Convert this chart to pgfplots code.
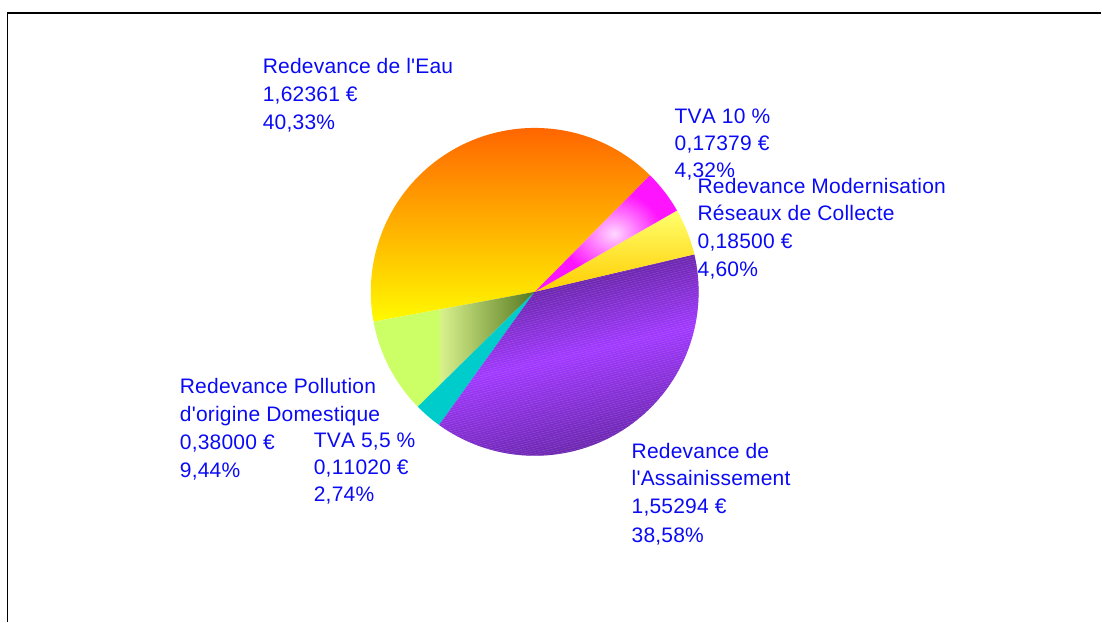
\documentclass[border=0pt]{standalone}
\usepackage{pgfplots}
\pgfplotsset{compat=1.18}
\usepackage{pgfplotstable}
\usetikzlibrary{patterns.meta}
\usepackage{fontspec}
\setmainfont{Liberation Sans}[Ligatures=TeXOff, Kerning=Off, LetterSpace=1.0]
\definecolor{txtblue}{RGB}{10,10,245}
\definecolor{eauTop}{RGB}{255,102,0}
\definecolor{eauBot}{RGB}{255,250,0}
\definecolor{pollLight}{RGB}{204,255,102}
\definecolor{pollPale}{RGB}{215,240,140}
\definecolor{pollDark}{RGB}{85,120,30}
\definecolor{teal5}{RGB}{0,204,204}
\definecolor{purDark}{RGB}{100,35,165}
\definecolor{purBright}{RGB}{160,55,255}
\definecolor{modTop}{RGB}{255,255,110}
\definecolor{modBot}{RGB}{255,205,0}
\definecolor{mag}{RGB}{255,20,255}
\definecolor{magLight}{RGB}{255,215,255}
\pgfdeclarehorizontalshading{pollshade}{100bp}{color(0bp)=(pollLight); color(45bp)=(pollLight); color(46bp)=(pollPale); color(75bp)=(pollDark); color(100bp)=(pollDark)}
\pgfdeclareradialshading{magshade}{\pgfpoint{3bp}{0bp}}{color(0bp)=(magLight); color(8bp)=(mag!55!white); color(18bp)=(mag); color(50bp)=(mag)}
\pgfdeclareverticalshading{purshade}{100bp}{color(0bp)=(purDark); color(25bp)=(purDark); color(50bp)=(purBright); color(75bp)=(purDark!80!black); color(100bp)=(purDark!80!black)}
\tikzset{lbl/.style={anchor=base west, inner sep=0pt, outer sep=0pt, text=txtblue,
    font=\fontsize{21bp}{24bp}\selectfont}}

\pgfplotstableread{
key value
Eau 1.62361
Pollution 0.38000
TVA55 0.11020
Assain 1.55294
Modern 0.18500
TVA10 0.17379
}\piedata

\begin{document}
\begin{tikzpicture}
\pgfplotstablegetelem{0}{value}\of\piedata \pgfmathsetmacro\vA{\pgfplotsretval}
\pgfplotstablegetelem{1}{value}\of\piedata \pgfmathsetmacro\vB{\pgfplotsretval}
\pgfplotstablegetelem{2}{value}\of\piedata \pgfmathsetmacro\vC{\pgfplotsretval}
\pgfplotstablegetelem{3}{value}\of\piedata \pgfmathsetmacro\vD{\pgfplotsretval}
\pgfplotstablegetelem{4}{value}\of\piedata \pgfmathsetmacro\vE{\pgfplotsretval}
\pgfplotstablegetelem{5}{value}\of\piedata \pgfmathsetmacro\vF{\pgfplotsretval}
\pgfmathsetmacro\total{\vA+\vB+\vC+\vD+\vE+\vF}
\pgfmathsetmacro\aA{45.3}
\pgfmathsetmacro\aB{\aA+360*\vA/\total}
\pgfmathsetmacro\aC{\aB+360*\vB/\total}
\pgfmathsetmacro\aD{\aC+360*\vC/\total}
\pgfmathsetmacro\aE{\aD+360*\vD/\total}
\pgfmathsetmacro\aF{\aE+360*\vE/\total}
\pgfmathsetmacro\aG{\aF+360*\vF/\total}
\begin{axis}[
  x=1bp, y=1bp,
  xmin=0, xmax=1102, ymin=0, ymax=622,
  y dir=reverse,
  hide axis, clip=false,
]
\path (axis cs:0,0) rectangle (axis cs:1102,622);
% slices
\addplot[draw=none, top color=eauTop, bottom color=eauBot, domain=\aA:\aB, samples=80, variable=\t]
  ({535+164*cos(\t)},{292-164*sin(\t)}) -- (axis cs:535,292) -- cycle;
\addplot[draw=none, shading=pollshade, domain=\aB:\aC, samples=30, variable=\t]
  ({535+164*cos(\t)},{292-164*sin(\t)}) -- (axis cs:535,292) -- cycle;
\addplot[draw=none, fill=teal5, domain=\aC:\aD, samples=10, variable=\t]
  ({535+164*cos(\t)},{292-164*sin(\t)}) -- (axis cs:535,292) -- cycle;
\addplot[draw=none, shading=purshade, shading angle=13,
  postaction={pattern={Lines[angle=14, distance=2.2bp, line width=0.5bp]}, pattern color=white!70!purBright, opacity=0.35},
  domain=\aD:\aE, samples=80, variable=\t]
  ({535+164*cos(\t)},{292-164*sin(\t)}) -- (axis cs:535,292) -- cycle;
\addplot[draw=none, top color=modTop, bottom color=modBot, domain=\aE:\aF, samples=20, variable=\t]
  ({535+164*cos(\t)},{292-164*sin(\t)}) -- (axis cs:535,292) -- cycle;
\addplot[draw=none, shading=magshade, domain=\aF:\aG, samples=20, variable=\t]
  ({535+164*cos(\t)},{292-164*sin(\t)}) -- (axis cs:535,292) -- cycle;
% frame
\draw[line width=1.2bp] (axis cs:7.5,622) -- (axis cs:7.5,13) -- (axis cs:1102,13);
% labels
\node[lbl] at (axis cs:263,74) {Redevance de l'Eau};
\node[lbl] at (axis cs:263,102) {1,62361 €};
\node[lbl] at (axis cs:263,130) {40,33\%};
\node[lbl] at (axis cs:675,124) {TVA 10 \%};
\node[lbl] at (axis cs:675,151) {0,17379 €};
\node[lbl] at (axis cs:675,177.5) {4,32\%};
\node[lbl] at (axis cs:698,193.3) {Redevance Modernisation};
\node[lbl] at (axis cs:698,221) {Réseaux de Collecte};
\node[lbl] at (axis cs:698,249) {0,18500 €};
\node[lbl] at (axis cs:698,276.7) {4,60\%};
\node[lbl] at (axis cs:180,394) {Redevance Pollution};
\node[lbl] at (axis cs:180,421.7) {d'origine Domestique};
\node[lbl] at (axis cs:180,450) {0,38000 €};
\node[lbl] at (axis cs:180,477.3) {9,44\%};
\node[lbl] at (axis cs:314,447.3) {TVA 5,5 \%};
\node[lbl] at (axis cs:314,474.5) {0,11020 €};
\node[lbl] at (axis cs:314,502) {2,74\%};
\node[lbl] at (axis cs:632,458.3) {Redevance de};
\node[lbl] at (axis cs:632,486) {l'Assainissement};
\node[lbl] at (axis cs:632,514) {1,55294 €};
\node[lbl] at (axis cs:632,542.5) {38,58\%};
\end{axis}
\end{tikzpicture}
\end{document}
